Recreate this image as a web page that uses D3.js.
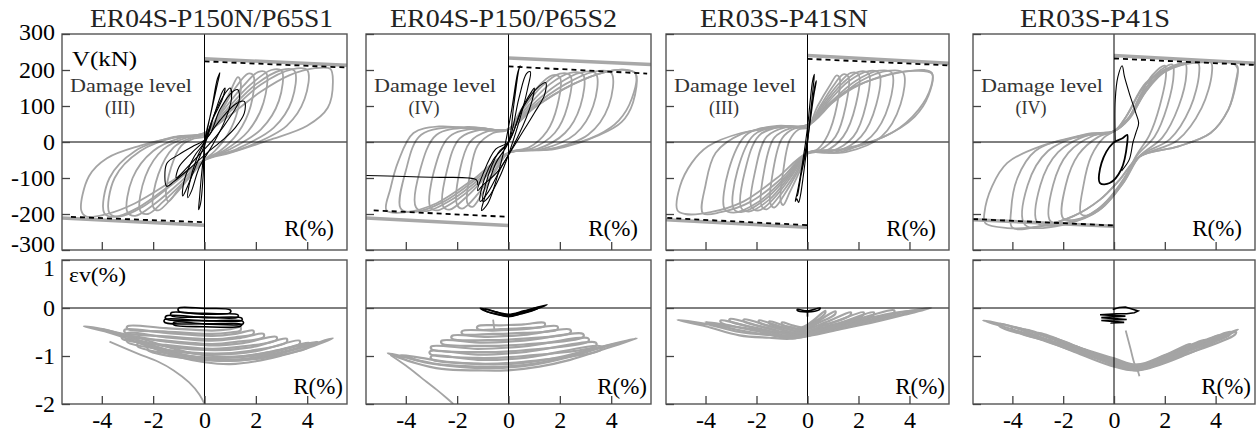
<!DOCTYPE html>
<html><head><meta charset="utf-8">
<script src="https://cdn.jsdelivr.net/npm/d3@7"></script>
<style>body{margin:0;background:#fff;}svg{display:block;font-family:"Liberation Serif",serif;}svg text{font-family:"Liberation Serif",serif;}</style>
</head><body><svg id="c" width="1256" height="437"></svg>
<script>
// ---------------- DATA ----------------
const titles = ["ER04S-P150N/P65S1","ER04S-P150/P65S2","ER03S-P41SN","ER03S-P41S"];
const damageLevels = ["(III)","(IV)","(III)","(IV)"];
const rTicks = [-4,-2,0,2,4];
const vTicks = [300,200,100,0,-100,-200,-300];
const eTicks = [1,0,-1,-2];
const rDomain = [-5.55,5.55];
const vDomain = [-300,300];
const eDomain = [-2,1];

// Panel 1 : V-R loops (gray = main test, black = pre-damage)
const p1GrayLoops = [
 [[0,15],[0.5,70],[1.0,140],[1.3,180],[1.4,170],[1.3,90],[0.9,20],[0.4,-25],[0,-50],[-0.5,-90],[-1.0,-130],[-1.4,-165],[-1.5,-150],[-1.3,-70],[-0.9,-10],[-0.4,10]],
 [[0,20],[0.6,80],[1.2,150],[1.7,190],[1.9,185],[1.8,100],[1.3,25],[0.6,-25],[0,-50],[-0.6,-100],[-1.2,-150],[-1.8,-190],[-2.0,-180],[-1.8,-90],[-1.2,-15],[-0.5,12]],
 [[0,22],[0.7,85],[1.5,155],[2.1,195],[2.4,192],[2.3,110],[1.7,30],[0.8,-22],[0,-50],[-0.8,-110],[-1.6,-165],[-2.2,-200],[-2.5,-192],[-2.3,-95],[-1.6,-20],[-0.7,12]],
 [[0,22],[0.8,85],[1.8,160],[2.6,200],[3.0,198],[2.9,115],[2.2,35],[1.0,-20],[0,-50],[-1.0,-115],[-2.0,-175],[-2.7,-205],[-3.0,-195],[-2.8,-100],[-2.0,-25],[-0.9,12]],
 [[0,24],[0.9,85],[2.0,160],[3.0,200],[3.5,198],[3.4,115],[2.7,40],[1.3,-18],[0,-50],[-1.2,-115],[-2.4,-180],[-3.3,-207],[-3.7,-198],[-3.5,-100],[-2.5,-25],[-1.1,14]],
 [[0,25],[1.0,85],[2.2,160],[3.4,202],[4.0,200],[3.9,120],[3.2,45],[1.6,-15],[0,-50],[-1.3,-118],[-2.6,-183],[-3.5,-208],[-3.9,-198],[-3.7,-100],[-2.7,-25],[-1.2,14]],
 [[0,25],[1.0,75],[2.2,140],[3.3,185],[4.3,205],[4.9,203],[5.0,170],[4.8,95],[4.0,45],[2.5,5],[1.0,-30],[0,-50],[-1.3,-110],[-2.7,-170],[-3.8,-200],[-4.6,-207],[-4.8,-190],[-4.5,-95],[-3.8,-45],[-2.5,-10],[-1.2,12]]
];
const p1BlackLoops = [
 [[0,0],[0.25,80],[0.5,160],[0.6,192],[0.5,175],[0.3,100],[0.05,10],[-0.1,-80],[-0.2,-160],[-0.23,-188],[-0.15,-170],[-0.05,-90]],
 [[0,0],[0.4,80],[0.8,135],[1.0,150],[1.05,120],[0.8,60],[0.3,-10],[-0.2,-70],[-0.5,-135],[-0.65,-155],[-0.6,-120],[-0.3,-45]],
 [[0,5],[0.6,60],[1.2,105],[1.55,113],[1.55,80],[1.2,40],[0.7,5],[0.1,-30],[-0.6,-75],[-1.2,-110],[-1.47,-123],[-1.47,-60],[-1.0,-35],[-0.4,-10]],
 [[0,0],[0.3,60],[0.7,120],[0.8,150],[0.7,140],[0.4,80],[0.1,10],[-0.3,-60],[-0.7,-130],[-0.85,-150],[-0.8,-110],[-0.4,-40]],
 [[0.2,20],[0.6,90],[1.1,140],[1.3,145],[1.35,115],[1.0,70],[0.5,20],[0,-20],[-0.8,-80],[-1.1,-100],[-1.0,-70],[-0.5,-30]]
];
const p1BlackLines = [];
const p1EnvGray = [[[0,231],[5.55,213]],[[-5.55,-211],[0,-231]]];
const p1EnvDash = [[[0,224],[5.5,207]],[[-5.2,-208],[0,-223]]];

// Panel 2
const p2GrayLoops = [
 [[0,35],[0.5,90],[1.1,150],[1.7,185],[2.0,180],[1.9,100],[1.5,30],[0.8,-15],[0,-30],[-0.5,-80],[-1.0,-140],[-1.4,-180],[-1.6,-170],[-1.5,-90],[-1.2,-10],[-0.6,25]],
 [[0,35],[0.6,95],[1.3,155],[2.0,190],[2.4,185],[2.3,100],[1.8,25],[0.9,-18],[0,-30],[-0.6,-85],[-1.2,-145],[-1.8,-185],[-2.0,-175],[-1.9,-80],[-1.5,0],[-0.8,30]],
 [[0,35],[0.7,95],[1.6,160],[2.4,192],[2.9,188],[2.8,100],[2.2,25],[1.1,-20],[0,-30],[-0.8,-90],[-1.6,-150],[-2.3,-188],[-2.55,-178],[-2.4,-80],[-1.9,10],[-1.0,35]],
 [[0,35],[0.8,95],[1.9,160],[2.8,193],[3.4,190],[3.3,100],[2.6,22],[1.3,-20],[0,-30],[-0.9,-95],[-1.9,-155],[-2.8,-190],[-3.05,-180],[-2.9,-80],[-2.3,15],[-1.2,38]],
 [[0,35],[0.9,95],[2.2,160],[3.3,195],[4.0,192],[3.9,100],[3.1,20],[1.6,-20],[0,-30],[-1.0,-95],[-2.2,-160],[-3.2,-192],[-3.6,-182],[-3.45,-80],[-2.8,20],[-1.4,40]],
 [[0,35],[1.0,95],[2.5,160],[3.8,195],[4.6,200],[4.95,190],[4.8,120],[4.3,60],[3.5,20],[1.8,-18],[0,-30],[-1.2,-100],[-2.5,-165],[-3.7,-195],[-4.2,-185],[-4.0,-80],[-3.4,20],[-1.6,42]],
 [[0,35],[1.0,95],[2.5,160],[3.8,195],[4.6,200],[4.95,190],[4.85,110],[4.4,55],[3.5,18],[1.8,-20],[0,-30],[-1.4,-105],[-2.8,-170],[-4.0,-195],[-4.75,-190],[-4.6,-130],[-4.3,-55],[-3.7,25],[-2.7,43],[-1.0,34]]
];
const p2BlackLoops = [
 [[0,0],[0.2,100],[0.4,200],[0.45,212],[0.35,190],[0.1,80],[-0.3,-60],[-0.8,-170],[-1.05,-190],[-0.95,-160],[-0.5,-60]],
 [[0,0],[0.4,120],[0.7,190],[0.85,195],[0.75,150],[0.3,30],[-0.3,-90],[-0.8,-155],[-1.0,-165],[-0.9,-120],[-0.4,-30]],
 [[0,0],[0.6,100],[1.2,155],[1.45,165],[1.4,130],[1.0,80],[0.4,10],[-0.2,-60],[-0.8,-140],[-1.1,-165],[-1.05,-130],[-0.6,-50]],
 [[0,0],[0.5,90],[0.9,140],[1.0,150],[0.9,110],[0.4,20],[-0.4,-80],[-1.0,-120],[-1.2,-135],[-1.0,-90],[-0.5,-20]]
];
const p2BlackLines = [[[-5.55,-93],[-3.0,-98],[-1.25,-105],[-1.2,-120]]];
const p2EnvGray = [[[0,233],[5.55,215]],[[-5.55,-211],[0,-232]]];
const p2EnvDash = [[[0,210],[5.4,190]],[[-5.25,-190],[0,-208]]];

// Panel 3
const p3GrayLoops = [
 [[0,40],[0.4,100],[0.9,160],[1.15,185],[1.26,178],[1.15,100],[0.8,20],[0.4,-20],[0,-32],[-0.3,-80],[-0.7,-140],[-0.95,-175],[-1.05,-165],[-0.95,-80],[-0.7,5],[-0.35,35]],
 [[0,42],[0.5,100],[1.0,155],[1.4,188],[1.6,182],[1.5,100],[1.1,15],[0.5,-22],[0,-32],[-0.4,-85],[-0.9,-145],[-1.3,-182],[-1.45,-172],[-1.35,-80],[-1.0,10],[-0.5,38]],
 [[0,44],[0.6,105],[1.2,160],[1.7,192],[2.0,188],[1.9,105],[1.4,15],[0.7,-25],[0,-32],[-0.5,-90],[-1.1,-150],[-1.6,-187],[-1.8,-178],[-1.7,-80],[-1.3,12],[-0.6,40]],
 [[0,45],[0.7,108],[1.4,165],[2.0,195],[2.4,190],[2.3,105],[1.8,15],[0.9,-27],[0,-32],[-0.6,-92],[-1.3,-155],[-1.9,-190],[-2.2,-180],[-2.05,-80],[-1.6,15],[-0.8,42]],
 [[0,45],[0.8,110],[1.6,168],[2.4,197],[2.8,192],[2.7,105],[2.1,15],[1.1,-28],[0,-32],[-0.7,-95],[-1.5,-160],[-2.3,-193],[-2.6,-183],[-2.45,-80],[-1.9,18],[-1.0,43]],
 [[0,46],[0.9,110],[1.9,170],[2.8,198],[3.3,193],[3.2,105],[2.5,15],[1.3,-28],[0,-32],[-0.8,-98],[-1.7,-162],[-2.6,-195],[-2.9,-185],[-2.75,-80],[-2.1,20],[-1.1,44]],
 [[0,46],[1.0,110],[2.1,170],[3.2,198],[3.75,193],[3.65,105],[2.9,15],[1.5,-28],[0,-32],[-0.9,-100],[-1.9,-165],[-2.9,-196],[-3.25,-186],[-3.1,-80],[-2.4,20],[-1.2,45]],
 [[0,48],[0.75,100],[1.6,145],[2.55,173],[3.85,196],[4.6,200],[4.88,192],[4.85,155],[4.36,90],[3.3,25],[1.26,-21],[0,-30],[-1.0,-100],[-2.2,-165],[-3.4,-195],[-4.1,-198],[-4.0,-120],[-3.6,-30],[-2.6,22],[-1.2,42]],
 [[0,48],[0.8,100],[1.8,150],[2.8,180],[4.0,197],[4.88,190],[4.75,130],[4.2,70],[3.0,15],[1.5,-20],[0,-30],[-1.2,-100],[-2.5,-165],[-3.8,-195],[-4.8,-200],[-5.1,-190],[-5.0,-123],[-4.54,-58],[-3.9,-12],[-2.6,25],[-1.2,40]]
];
const p3BlackLoops = [
 [[0,0],[0.12,80],[0.22,150],[0.27,188],[0.2,170],[0.1,110],[0.0,40],[-0.2,-60],[-0.4,-140],[-0.48,-165],[-0.42,-158],[-0.35,-168],[-0.28,-150],[-0.12,-70]],
 [[0,0],[0.15,90],[0.3,160],[0.35,170],[0.25,130],[0.05,30],[-0.2,-70],[-0.38,-145],[-0.4,-150],[-0.3,-110],[-0.1,-40]]
];
const p3BlackLines = [];
const p3EnvGray = [[[0,240],[5.55,219]],[[-5.55,-216],[0,-237]]];
const p3EnvDash = [[[0,231],[5.5,213]],[[-5.5,-211],[0,-231]]];

// Panel 4
const p4GrayLoops = [
 [[0,30],[0.6,70],[1.0,125],[1.5,185],[2.0,212],[2.05,190],[1.8,100],[1.4,20],[0.9,-35],[0.4,-100],[-0.3,-165],[-1.0,-203],[-1.3,-200],[-1.2,-120],[-0.9,-40],[-0.4,12]],
 [[0,30],[0.6,68],[1.1,130],[1.7,192],[2.3,215],[2.35,190],[2.1,100],[1.6,15],[0.9,-38],[0.4,-105],[-0.4,-175],[-1.3,-212],[-2.0,-212],[-1.9,-120],[-1.4,-35],[-0.6,15]],
 [[0,30],[0.6,66],[1.2,135],[1.9,195],[2.8,218],[2.85,190],[2.55,100],[1.9,12],[1.0,-40],[0.4,-110],[-0.5,-185],[-1.6,-220],[-2.5,-220],[-2.4,-120],[-1.8,-30],[-0.8,18]],
 [[0,30],[0.6,64],[1.25,140],[2.1,200],[3.3,220],[3.35,190],[3.0,95],[2.2,8],[1.0,-40],[0.35,-115],[-0.6,-190],[-1.8,-225],[-3.0,-225],[-2.9,-120],[-2.2,-28],[-1.0,20]],
 [[0,30],[0.55,62],[1.25,150],[2.3,205],[3.8,222],[3.85,190],[3.45,95],[2.5,5],[1.0,-42],[0.3,-115],[-0.6,-185],[-2.0,-230],[-3.5,-230],[-3.4,-120],[-2.6,-25],[-1.1,22]],
 [[0,30],[0.48,71],[1.25,164],[2.3,210],[3.6,224],[4.6,222],[4.86,210],[4.8,170],[4.5,90],[3.8,25],[2.54,-12],[1.0,-40],[0.22,-105],[-0.55,-160],[-1.6,-206],[-2.9,-234],[-4.0,-238],[-4.05,-190],[-3.8,-100],[-3.1,-25],[-1.5,15]],
 [[0,30],[0.48,71],[1.25,160],[2.3,208],[3.6,222],[4.6,222],[4.86,205],[4.8,160],[4.5,90],[3.8,25],[2.54,-12],[1.0,-40],[0.22,-105],[-0.55,-160],[-1.6,-206],[-2.9,-234],[-4.2,-239],[-5.07,-225],[-5.1,-197],[-4.8,-123],[-4.2,-58],[-2.9,-12],[-0.94,20]]
];
const p4BlackLoops = [
 [[-0.55,-114],[-0.49,-58],[-0.04,-3],[0.35,11],[0.52,20],[0.52,-3],[0.28,-77],[-0.17,-114]]
];
const p4BlackLines = [[[0.05,0],[0.05,118],[0.15,180],[0.32,212],[0.41,182],[0.6,136],[0.86,80],[0.97,53],[0.86,25],[0.75,0],[0.6,-49],[0.3,-80]]];
const p4EnvGray = [[[0,240],[5.55,219]],[[-5.55,-216],[0,-234]]];
const p4EnvDash = [[[0,232],[5.5,214]],[[-5.55,-214],[0,-232]]];

// Volumetric strain ev - R
const p1StrainBands = [
 [[-4.7,-0.38],[-3.8,-0.5],[-3.0,-0.64],[-2.0,-0.84],[-1.0,-1.02],[0,-1.13],[1.0,-1.17],[2.0,-1.11],[3.0,-0.99],[4.0,-0.84],[5.0,-0.63],[4.0,-0.79],[3.0,-0.94],[2.0,-1.05],[1.0,-1.1],[0,-1.07],[-1.0,-0.97],[-2.0,-0.79],[-3.0,-0.59],[-3.8,-0.46]],
 [[-4.0,-0.44],[-3.0,-0.6],[-2.0,-0.78],[-1.0,-0.95],[0,-1.05],[1.0,-1.08],[2.0,-1.03],[3.0,-0.92],[4.0,-0.77],[4.4,-0.7],[3.5,-0.8],[2.5,-0.92],[1.5,-1.0],[0.5,-1.01],[-0.5,-0.94],[-1.5,-0.8],[-2.5,-0.63],[-3.5,-0.5]],
 [[-3.0,-0.38],[-1.5,-0.42],[0.3,-0.47],[1.0,-0.44],[1.4,-0.40],[1.4,-0.47],[1.0,-0.51],[0.3,-0.54],[-1.5,-0.49],[-3.0,-0.44]],
 [[-3.1,-0.45],[-1.5,-0.52],[0.3,-0.58],[1.2,-0.54],[1.9,-0.47],[1.9,-0.54],[1.2,-0.61],[0.3,-0.65],[-1.5,-0.59],[-3.1,-0.51]],
 [[-3.0,-0.52],[-1.5,-0.61],[0.3,-0.68],[1.3,-0.63],[2.3,-0.54],[2.3,-0.61],[1.3,-0.7],[0.3,-0.75],[-1.5,-0.68],[-3.0,-0.58]],
 [[-3.2,-0.58],[-1.5,-0.7],[0.3,-0.78],[1.5,-0.73],[2.8,-0.6],[2.8,-0.67],[1.5,-0.8],[0.3,-0.85],[-1.5,-0.77],[-3.2,-0.64]],
 [[-3.0,-0.65],[-1.5,-0.8],[0.4,-0.88],[1.8,-0.82],[3.2,-0.64],[3.2,-0.71],[1.8,-0.89],[0.4,-0.95],[-1.5,-0.87],[-3.0,-0.71]],
 [[-2.6,-0.74],[-1.2,-0.9],[0.5,-0.97],[2.0,-0.9],[3.7,-0.68],[3.7,-0.75],[2.0,-0.97],[0.5,-1.04],[-1.2,-0.97],[-2.6,-0.8]],
 [[-2.2,-0.82],[-1.0,-0.97],[0.6,-1.04],[2.3,-0.97],[4.1,-0.73],[4.1,-0.8],[2.3,-1.04],[0.6,-1.1],[-1.0,-1.03],[-2.2,-0.88]]
];
const p1StrainLines = [[[-3.7,-0.7],[-2.6,-0.95],[-1.8,-1.12],[-1.2,-1.3],[-0.6,-1.55],[-0.2,-1.8],[0.0,-2.0]]];
const p1StrainBlack = [
 [[-1.0,0.0],[0,-0.01],[1.0,-0.04],[1.0,-0.1],[0,-0.11],[-1.0,-0.07]],
 [[-1.3,-0.1],[0,-0.13],[1.3,-0.14],[1.3,-0.19],[0,-0.19],[-1.3,-0.16]],
 [[-1.5,-0.17],[0,-0.2],[1.45,-0.21],[1.45,-0.26],[0,-0.26],[-1.5,-0.23]],
 [[-1.55,-0.24],[0,-0.27],[1.5,-0.28],[1.5,-0.33],[0,-0.33],[-1.55,-0.3]],
 [[-1.2,-0.3],[0,-0.33],[1.45,-0.34],[1.4,-0.38],[0,-0.39],[-1.2,-0.35]]
];
const p1StrainBlackLines = [];

const p2StrainBands = [
 [[-4.7,-0.94],[-3.6,-1.15],[-2.6,-1.27],[-1.2,-1.3],[-0.1,-1.3],[1.2,-1.22],[2.4,-1.08],[3.7,-0.86],[5.0,-0.63],[3.7,-0.8],[2.4,-1.0],[1.2,-1.14],[-0.1,-1.22],[-1.2,-1.22],[-2.6,-1.18],[-3.6,-1.08]],
 [[-4.2,-0.98],[-3.2,-1.14],[-2.0,-1.22],[-0.5,-1.25],[1.0,-1.18],[2.5,-1.0],[3.8,-0.8],[4.4,-0.72],[3.2,-0.86],[2.0,-1.02],[0.5,-1.15],[-1.0,-1.17],[-2.4,-1.12],[-3.4,-1.04]],
 [[-1.2,-0.38],[-0.3,-0.36],[0.6,-0.34],[1.4,-0.31],[1.4,-0.38],[0.6,-0.42],[-0.3,-0.44],[-1.2,-0.44]],
 [[-1.8,-0.48],[-0.6,-0.47],[0.6,-0.44],[1.9,-0.38],[1.9,-0.45],[0.6,-0.52],[-0.6,-0.54],[-1.8,-0.54]],
 [[-2.2,-0.58],[-0.8,-0.6],[0.6,-0.56],[2.4,-0.45],[2.4,-0.52],[0.6,-0.64],[-0.8,-0.67],[-2.2,-0.64]],
 [[-2.6,-0.68],[-1.0,-0.72],[0.6,-0.68],[2.9,-0.54],[2.9,-0.61],[0.6,-0.76],[-1.0,-0.79],[-2.6,-0.74]],
 [[-3.0,-0.8],[-1.2,-0.85],[0.6,-0.8],[3.1,-0.63],[3.1,-0.7],[0.6,-0.88],[-1.2,-0.92],[-3.0,-0.86]],
 [[-3.05,-0.9],[-1.2,-0.97],[0.6,-0.92],[3.4,-0.72],[3.4,-0.79],[0.6,-1.0],[-1.2,-1.04],[-3.05,-0.96]],
 [[-3.0,-1.0],[-1.2,-1.08],[0.6,-1.04],[3.6,-0.8],[3.6,-0.87],[0.6,-1.12],[-1.2,-1.16],[-3.0,-1.07]]
];
const p2StrainLines = [[[-4.6,-0.98],[-4.0,-1.2],[-3.4,-1.45],[-2.8,-1.7],[-2.4,-1.88],[-2.15,-2.0]],[[-0.6,-0.24],[-0.55,-0.45]]];
const p2StrainBlack = [
 [[-1.1,0.0],[-0.5,-0.08],[0,-0.13],[0.6,-0.06],[1.5,0.07],[1.3,0.02],[0.6,-0.1],[0,-0.17],[-0.5,-0.12],[-1.0,-0.04]],
 [[-0.9,-0.02],[-0.4,-0.1],[0,-0.15],[0.5,-0.09],[1.2,0.02],[1.1,-0.02],[0.5,-0.12],[0,-0.18],[-0.4,-0.14],[-0.9,-0.06]]
];
const p2StrainBlackLines = [];

const p3StrainBands = [
 [[-5.1,-0.25],[-4.0,-0.38],[-2.67,-0.57],[-1.5,-0.62],[-0.7,-0.64],[0.06,-0.58],[1.3,-0.44],[2.64,-0.29],[3.8,-0.14],[4.85,0.0],[3.8,-0.08],[2.64,-0.22],[1.3,-0.36],[0.06,-0.5],[-0.7,-0.57],[-1.5,-0.56],[-2.67,-0.5],[-4.0,-0.33]],
 [[-4.0,-0.29],[-2.8,-0.45],[-1.5,-0.56],[-0.5,-0.59],[0.5,-0.5],[2.0,-0.33],[3.5,-0.15],[4.4,-0.05],[3.4,-0.1],[2.0,-0.26],[0.5,-0.43],[-0.5,-0.52],[-1.5,-0.49],[-2.8,-0.39]],
 [[-1.0,-0.30],[-0.6,-0.36],[-0.2,-0.40],[0.25,-0.25],[0.7,-0.06],[0.68,-0.12],[0.25,-0.3],[-0.2,-0.45],[-0.6,-0.41],[-1.0,-0.34]],
 [[-1.5,-0.28],[-0.9,-0.37],[-0.3,-0.44],[0.4,-0.27],[1.1,-0.07],[1.08,-0.13],[0.4,-0.32],[-0.3,-0.49],[-0.9,-0.42],[-1.5,-0.32]],
 [[-1.9,-0.26],[-1.1,-0.38],[-0.3,-0.48],[0.7,-0.3],[1.7,-0.09],[1.68,-0.15],[0.7,-0.35],[-0.3,-0.53],[-1.1,-0.43],[-1.9,-0.3]],
 [[-2.5,-0.24],[-1.4,-0.39],[-0.4,-0.52],[0.9,-0.32],[2.2,-0.09],[2.18,-0.15],[0.9,-0.37],[-0.4,-0.57],[-1.4,-0.44],[-2.5,-0.28]],
 [[-3.05,-0.23],[-1.7,-0.4],[-0.5,-0.56],[1.1,-0.34],[2.6,-0.09],[2.58,-0.15],[1.1,-0.39],[-0.5,-0.61],[-1.7,-0.45],[-3.05,-0.27]],
 [[-3.4,-0.26],[-2.0,-0.43],[-0.6,-0.59],[1.4,-0.32],[3.4,-0.05],[3.38,-0.11],[1.4,-0.37],[-0.6,-0.63],[-2.0,-0.48],[-3.4,-0.3]]
];
const p3StrainLines = [];
const p3StrainBlack = [[[-0.4,-0.03],[0,-0.06],[0.5,0.0],[0.45,-0.04],[0,-0.08],[-0.4,-0.05]]];
const p3StrainBlackLines = [[[0,-0.04],[0,-0.18]]];

const p4StrainBands = [
 [[-5.15,-0.26],[-3.18,-0.58],[-1.67,-0.89],[-0.13,-1.2],[0.93,-1.3],[2.9,-0.96],[4.88,-0.45],[2.9,-0.86],[1.0,-1.18],[-0.13,-1.1],[-1.67,-0.8],[-3.18,-0.5]],
 [[-4.0,-0.40],[-2.0,-0.72],[0.0,-1.05],[0.9,-1.18],[2.0,-0.98],[3.0,-0.75],[2.95,-0.81],[2.0,-1.03],[0.9,-1.23],[0.0,-1.12],[-2.0,-0.78],[-4.0,-0.45]],
 [[-3.5,-0.45],[-1.8,-0.76],[0.0,-1.08],[0.9,-1.2],[2.2,-0.95],[3.6,-0.66],[3.55,-0.72],[2.2,-1.0],[0.9,-1.25],[0.0,-1.15],[-1.8,-0.82],[-3.5,-0.5]],
 [[-3.0,-0.52],[-1.5,-0.8],[0.0,-1.1],[0.9,-1.22],[2.4,-0.93],[4.2,-0.56],[4.15,-0.62],[2.4,-0.98],[0.9,-1.27],[0.0,-1.17],[-1.5,-0.86],[-3.0,-0.58]],
 [[-2.5,-0.62],[-1.2,-0.86],[0.0,-1.12],[0.9,-1.24],[2.6,-0.9],[4.6,-0.5],[4.55,-0.56],[2.6,-0.95],[0.9,-1.29],[0.0,-1.19],[-1.2,-0.92],[-2.5,-0.68]],
 [[-4.5,-0.33],[-2.8,-0.62],[-1.0,-0.95],[0.5,-1.2],[0.9,-1.26],[2.8,-0.92],[4.8,-0.5],[4.75,-0.56],[2.8,-0.97],[0.9,-1.3],[0.5,-1.25],[-1.0,-1.0],[-2.8,-0.67],[-4.5,-0.38]]
];
const p4StrainLines = [[[0.46,-0.47],[0.65,-0.85],[0.8,-1.15],[0.95,-1.33],[1.0,-1.42]]];
const p4StrainBlack = [];
const p4StrainBlackLines = [[[-0.05,-0.03],[0.2,0.01],[0.45,0.02],[0.95,-0.06],[0.8,-0.1],[0.5,-0.12],[0.1,-0.12],[-0.55,-0.14],[0.45,-0.17],[-0.5,-0.2],[0.5,-0.24],[-0.5,-0.26],[0.4,-0.3],[-0.1,-0.31],[0.0,-0.2]]];

// table built from the named arrays
const panels = [
 {gray:p1GrayLoops, black:p1BlackLoops, blackLines:p1BlackLines, envG:p1EnvGray, envD:p1EnvDash, sBands:p1StrainBands, sLines:p1StrainLines, sBlack:p1StrainBlack, sBlackLines:p1StrainBlackLines},
 {gray:p2GrayLoops, black:p2BlackLoops, blackLines:p2BlackLines, envG:p2EnvGray, envD:p2EnvDash, sBands:p2StrainBands, sLines:p2StrainLines, sBlack:p2StrainBlack, sBlackLines:p2StrainBlackLines},
 {gray:p3GrayLoops, black:p3BlackLoops, blackLines:p3BlackLines, envG:p3EnvGray, envD:p3EnvDash, sBands:p3StrainBands, sLines:p3StrainLines, sBlack:p3StrainBlack, sBlackLines:p3StrainBlackLines},
 {gray:p4GrayLoops, black:p4BlackLoops, blackLines:p4BlackLines, envG:p4EnvGray, envD:p4EnvDash, sBands:p4StrainBands, sLines:p4StrainLines, sBlack:p4StrainBlack, sBlackLines:p4StrainBlackLines}
];

// ---------------- LAYOUT ----------------
const FONT = "Liberation Serif, serif";
const lefts = [62,366,666,973], widths = [285,285,283,282];
const topBox = [34,250], botBox = [260,404];
const titleX = [90,390,700,1020], titleW = [243,227,168,150];
const GRAY = "#a4a4a4";

const svg = d3.select("#c");
const defs = svg.append("defs");

panels.forEach((p,i) => {
  const x0 = lefts[i], x1 = lefts[i] + widths[i];
  const x = d3.scaleLinear().domain(rDomain).range([x0, x1]);
  const yV = d3.scaleLinear().domain(vDomain).range([topBox[1], topBox[0]]);
  const yE = d3.scaleLinear().domain(eDomain).range([botBox[1], botBox[0]]);

  defs.append("clipPath").attr("id","ct"+i).append("rect")
    .attr("x",x0).attr("y",topBox[0]).attr("width",x1-x0).attr("height",topBox[1]-topBox[0]);
  defs.append("clipPath").attr("id","cb"+i).append("rect")
    .attr("x",x0).attr("y",botBox[0]).attr("width",x1-x0).attr("height",botBox[1]-botBox[0]);

  const lineVc = d3.line().x(d=>x(d[0])).y(d=>yV(d[1])).curve(d3.curveCatmullRomClosed.alpha(0.5));
  const lineVo = d3.line().x(d=>x(d[0])).y(d=>yV(d[1])).curve(d3.curveCatmullRom.alpha(0.5));
  const lineVl = d3.line().x(d=>x(d[0])).y(d=>yV(d[1]));
  const lineEc = d3.line().x(d=>x(d[0])).y(d=>yE(d[1])).curve(d3.curveCatmullRomClosed.alpha(0.5));
  const lineEo = d3.line().x(d=>x(d[0])).y(d=>yE(d[1])).curve(d3.curveCatmullRom.alpha(0.5));
  const lineEl = d3.line().x(d=>x(d[0])).y(d=>yE(d[1]));

  // ---- top subplot ----
  const gt = svg.append("g").attr("clip-path",`url(#ct${i})`);
  gt.selectAll(null).data(p.gray).join("path").attr("d",lineVc)
    .attr("fill","none").attr("stroke",GRAY).attr("stroke-width",1.8);
  gt.selectAll(null).data(p.envG).join("path").attr("d",lineVl)
    .attr("fill","none").attr("stroke","#a8a8a8").attr("stroke-width",3.5);
  gt.selectAll(null).data(p.envD).join("path").attr("d",lineVl)
    .attr("fill","none").attr("stroke","#000").attr("stroke-width",1.8).attr("stroke-dasharray","5,4");
  gt.append("line").attr("x1",x0).attr("x2",x1).attr("y1",yV(0)).attr("y2",yV(0)).attr("stroke","#000").attr("stroke-width",1);
  gt.append("line").attr("x1",x(0)).attr("x2",x(0)).attr("y1",topBox[0]).attr("y2",topBox[1]).attr("stroke","#000").attr("stroke-width",1);
  gt.selectAll(null).data(p.black).join("path").attr("d",lineVc)
    .attr("fill","none").attr("stroke","#000").attr("stroke-width",i===3?1.8:1.1);
  gt.selectAll(null).data(p.blackLines).join("path").attr("d",lineVo)
    .attr("fill","none").attr("stroke","#000").attr("stroke-width",1.1);

  // ---- bottom subplot ----
  const gb = svg.append("g").attr("clip-path",`url(#cb${i})`);
  gb.selectAll(null).data(p.sBands).join("path").attr("d",lineEc)
    .attr("fill","none").attr("stroke",GRAY).attr("stroke-width",2.2);
  gb.selectAll(null).data(p.sLines).join("path").attr("d",lineEo)
    .attr("fill","none").attr("stroke",GRAY).attr("stroke-width",1.8);
  gb.append("line").attr("x1",x0).attr("x2",x1).attr("y1",yE(0)).attr("y2",yE(0)).attr("stroke","#000").attr("stroke-width",1);
  gb.append("line").attr("x1",x(0)).attr("x2",x(0)).attr("y1",botBox[0]).attr("y2",botBox[1]).attr("stroke","#000").attr("stroke-width",1);
  gb.selectAll(null).data(p.sBlack).join("path").attr("d",lineEc)
    .attr("fill","none").attr("stroke","#000").attr("stroke-width",1.6);
  gb.selectAll(null).data(p.sBlackLines).join("path").attr("d",lineEl)
    .attr("fill","none").attr("stroke","#000").attr("stroke-width",1.6);

  // ---- frames ----
  [topBox, botBox].forEach(b => {
    svg.append("rect").attr("x",x0).attr("y",b[0]).attr("width",x1-x0).attr("height",b[1]-b[0])
      .attr("fill","none").attr("stroke","#555").attr("stroke-width",1.4);
  });

  // ---- axes ----
  const styleAxis = g => {
    g.attr("font-family",FONT).attr("font-size",24);
    g.select(".domain").remove();
    g.selectAll(".tick line").attr("stroke","#444").attr("stroke-width",1.3);
    g.selectAll(".tick text").attr("fill","#000");
  };
  const fmt = i===0 ? (d=>String(d)) : (()=> "");
  const ayT = svg.append("g").attr("transform",`translate(${x0},0)`)
    .call(d3.axisLeft(yV).tickValues(vTicks).tickSize(-8).tickPadding(7).tickFormat(fmt)).call(styleAxis);
  ayT.selectAll(".tick text").attr("transform", d => d===-300 ? "translate(0,-6)" : (d===300 ? "translate(0,-2)" : null));
  const ayB = svg.append("g").attr("transform",`translate(${x0},0)`)
    .call(d3.axisLeft(yE).tickValues(eTicks).tickSize(-8).tickPadding(7).tickFormat(fmt)).call(styleAxis);
  ayB.selectAll(".tick text").attr("transform", d => d===1 ? "translate(0,8)" : null);
  svg.append("g").attr("transform",`translate(0,${topBox[1]})`)
    .call(d3.axisBottom(x).tickValues(rTicks).tickSize(-8).tickFormat(()=> "")).call(styleAxis);
  svg.append("g").attr("transform",`translate(0,${botBox[1]})`)
    .call(d3.axisBottom(x).tickValues(rTicks).tickSize(-8).tickPadding(7).tickFormat(d=>String(d))).call(styleAxis);

  // ---- texts ----
  const T = (xx, yy, size, str) => svg.append("text").attr("x",xx).attr("y",yy)
    .attr("font-family",FONT).attr("font-size",size).text(str);
  T(titleX[i], 27, 26, titles[i]).attr("fill","#222")
    .attr("textLength",titleW[i]).attr("lengthAdjust","spacingAndGlyphs");
  T(x0+8, 92, 18, "Damage level").attr("fill","#333")
    .attr("textLength",122).attr("lengthAdjust","spacingAndGlyphs");
  T(x0+58, 114, 18, damageLevels[i]).attr("fill","#333").attr("text-anchor","middle");
  T(x1-13, 236, 23, "R(%)").attr("text-anchor","end");
  T(x1-4, 394, 23, "R(%)").attr("text-anchor","end");
  if (i===0) {
    T(x0+10, 66, 22, "V(kN)").attr("textLength",65).attr("lengthAdjust","spacingAndGlyphs");
    T(x0+7, 282, 21, "εv(%)").attr("textLength",57).attr("lengthAdjust","spacingAndGlyphs");
  }
});
</script></body></html>
